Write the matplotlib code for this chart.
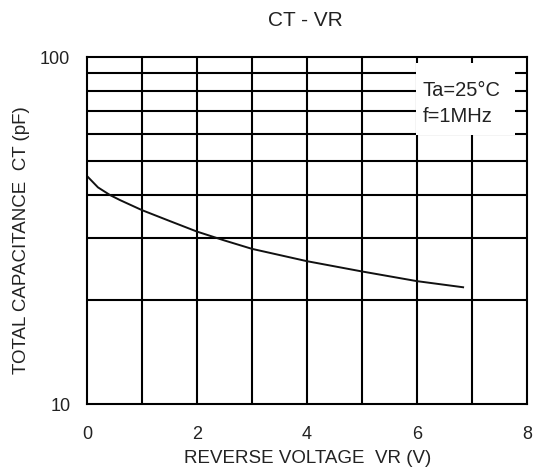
import matplotlib
matplotlib.use("Agg")
import matplotlib.pyplot as plt
from matplotlib.patches import Rectangle

plt.rcParams["font.family"] = ["Liberation Sans", "DejaVu Sans"]

vr = [0, 0.2, 0.42, 0.6, 1, 1.5, 2, 2.5, 3, 4, 5, 6, 6.84]
ct = [45.4, 42.1, 40.0, 38.7, 36.2, 33.7, 31.4, 29.6, 28.0, 25.8, 24.1, 22.6, 21.7]

x_ticks = [0, 2, 4, 6, 8]
y_ticks = [10, 100]
x_grid = [1, 2, 3, 4, 5, 6, 7]
y_grid = [20, 30, 40, 50, 60, 70, 80, 90]

fig = plt.figure(figsize=(5.36, 4.70), dpi=100)
ax = fig.add_axes([0.1623, 0.1404, 0.8207, 0.7383])

ax.set_yscale("log")
ax.set_xlim(0, 8)
ax.set_ylim(10, 100)

# grille
for x in x_grid:
    ax.axvline(x, color="black", lw=1.5, zorder=1)
for y in y_grid:
    ax.axhline(y, color="black", lw=1.5, zorder=1)

# cadre blanc de la légende
ax.add_patch(Rectangle((5.985, 59.5), 1.795, 36.7, facecolor="white",
                       edgecolor="none", zorder=2))
ax.text(6.1, 80.3, "Ta=25°C", fontsize=14.5, va="center", ha="left",
        color="#222222", zorder=3)
ax.text(6.1, 67.2, "f=1MHz", fontsize=14.5, va="center", ha="left",
        color="#222222", zorder=3)

ax.plot(vr, ct, color="#111111", lw=1.4, zorder=4)

for s in ax.spines.values():
    s.set_linewidth(1.5)
    s.set_color("black")
    s.set_zorder(5)

ax.set_xticks(x_ticks)
ax.set_xticklabels([str(t) for t in x_ticks])
ax.set_yticks(y_ticks)
ax.set_yticklabels([str(t) for t in y_ticks])
ax.yaxis.set_minor_locator(matplotlib.ticker.NullLocator())
ax.tick_params(axis="both", length=0, labelsize=13, colors="#222222")
ax.tick_params(axis="x", pad=16)
ax.tick_params(axis="y", pad=12)

ax.set_xlabel("REVERSE VOLTAGE  VR (V)", fontsize=13.5, color="#222222", va="center")
ax.xaxis.set_label_coords(0.502, -0.156)
ax.set_ylabel("TOTAL CAPACITANCE  CT (pF)", fontsize=13.5, color="#222222", va="center")
ax.yaxis.set_label_coords(-0.148, 0.473)

fig.text(305 / 536, 1 - 21 / 470, "CT - VR", fontsize=15, ha="center",
         va="center", color="#222222")

fig.savefig("out.png", dpi=100)
